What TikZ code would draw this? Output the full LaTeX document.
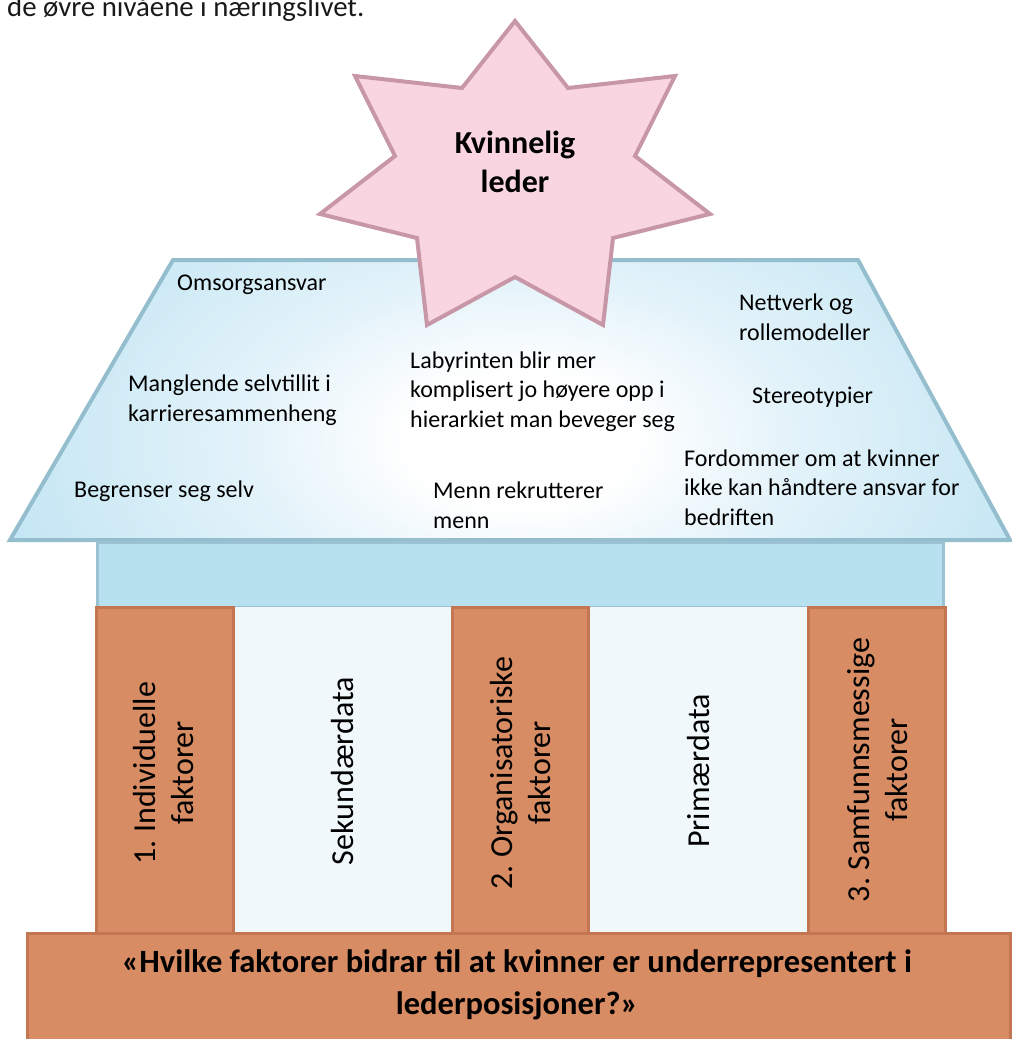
\documentclass[tikz,border=0pt]{standalone}
\usepackage{fontspec}
\setmainfont{Carlito}
\frenchspacing
\definecolor{rA}{HTML}{E4F3FA}
\definecolor{rB}{HTML}{CBE9F5}
\definecolor{rC}{HTML}{B2DDF1}
\definecolor{rD}{HTML}{92CDEC}
\definecolor{rE}{HTML}{6AB7E4}
\definecolor{roofline}{HTML}{94BDCD}
\definecolor{bandfill}{HTML}{B8E1F0}
\definecolor{bandline}{HTML}{9AC2D2}
\definecolor{pillfill}{HTML}{D88C63}
\definecolor{pillline}{HTML}{C47652}
\definecolor{colfill}{HTML}{F1F8FC}
\definecolor{starfill}{HTML}{F9D5E1}
\definecolor{starline}{HTML}{C897A7}
\pgfdeclareradialshading{roofshade}{\pgfpoint{0bp}{0bp}}{color(0bp)=(white); color(5bp)=(white); color(12bp)=(rA); color(21bp)=(rB); color(31bp)=(rC); color(39bp)=(rD); color(46bp)=(rE); color(80bp)=(rE)}
\tikzset{
  rooftext/.style={anchor=base west, inner sep=0pt, align=left, font=\fontsize{24}{29.5}\selectfont},
  pilltext/.style={rotate=90, inner sep=0pt, align=center, font=\fontsize{32}{38}\selectfont},
  pillbox/.style={fill=pillfill, draw=pillline, line width=3pt},
  colbox/.style={fill=colfill},
}
\begin{document}
\begin{tikzpicture}[x=1pt, y=-1pt]
\useasboundingbox (0,0) rectangle (1012,1039);
% intro text (cut off at the top)
\node[anchor=base west, inner sep=0pt, font=\fontsize{28.8}{32}\selectfont, text=black!90] (intro) at (7,16.7) {de øvre nivåene i næringslivet.};
% roof
\begin{scope}
\clip (173,260) -- (858,260) -- (1010,540) -- (10,540) -- cycle;
\shade[shading=roofshade] (520,440) ellipse [x radius=560, y radius=330];
\end{scope}
\draw[roofline, line width=4pt, line join=miter] (173,260) -- (858,260) -- (1010,540) -- (10,540) -- cycle;
% band
\draw[fill=bandfill, draw=bandline, line width=3pt] (97,542) rectangle (943,607);
% columns
\fill[colbox] (233,607) rectangle (452,933);
\fill[colbox] (588,607) rectangle (808,933);
% pillars
\draw[pillbox] (96,607) rectangle (233,933);
\draw[pillbox] (452,607) rectangle (588,933);
\draw[pillbox] (808,607) rectangle (945,933);
% base
\draw[pillbox] (27,933) rectangle (1010,1060);
% star
\draw[fill=starfill, draw=starline, line width=4pt, line join=miter]
  (515,21) -- (568,88) -- (675,76) -- (635,156) -- (710,214) -- (613,238) -- (603,325)
  -- (515,277) -- (427,325) -- (417,238) -- (320,214) -- (395,156) -- (355,76) -- (462,88) -- cycle;
\node[anchor=base, inner sep=0pt, align=center, font=\fontsize{32}{39}\selectfont\bfseries] (star) at (515,192) {Kvinnelig\\leder};
% roof texts (base anchor = baseline of the last line)
\node[rooftext] (omsorg) at (177,290) {Omsorgsansvar};
\node[rooftext] (mangl) at (128,421) {Manglende selvtillit i\\karrieresammenheng};
\node[rooftext] (begr) at (74,497) {Begrenser seg selv};
\node[rooftext] (laby) at (410,427) {Labyrinten blir mer\\komplisert jo høyere opp i\\hierarkiet man beveger seg};
\node[rooftext] (menn) at (433,528) {Menn rekrutterer\\menn};
\node[rooftext] (nett) at (739,340) {Nettverk og\\rollemodeller};
\node[rooftext] (stereo) at (752,403) {Stereotypier};
\node[rooftext] (fordom) at (684,525) {Fordommer om at kvinner\\ikke kan håndtere ansvar for\\bedriften};
% pillar texts
\node[pilltext] (indiv) at (164,773) {1. Individuelle\\faktorer};
\node[pilltext] (sek) at (343,771) {Sekundærdata};
\node[pilltext] (org) at (521,773) {2. Organisatoriske\\faktorer};
\node[pilltext] (prim) at (698,771) {Primærdata};
\node[pilltext] (samf) at (878,770) {3. Samfunnsmessige\\faktorer};
% base text
\node[anchor=base, inner sep=0pt, align=center, font=\fontsize{32.5}{42}\selectfont\bfseries] (question) at (517,1014) {«Hvilke faktorer bidrar til at kvinner er underrepresentert i\\lederposisjoner?»};
\end{tikzpicture}
\end{document}
